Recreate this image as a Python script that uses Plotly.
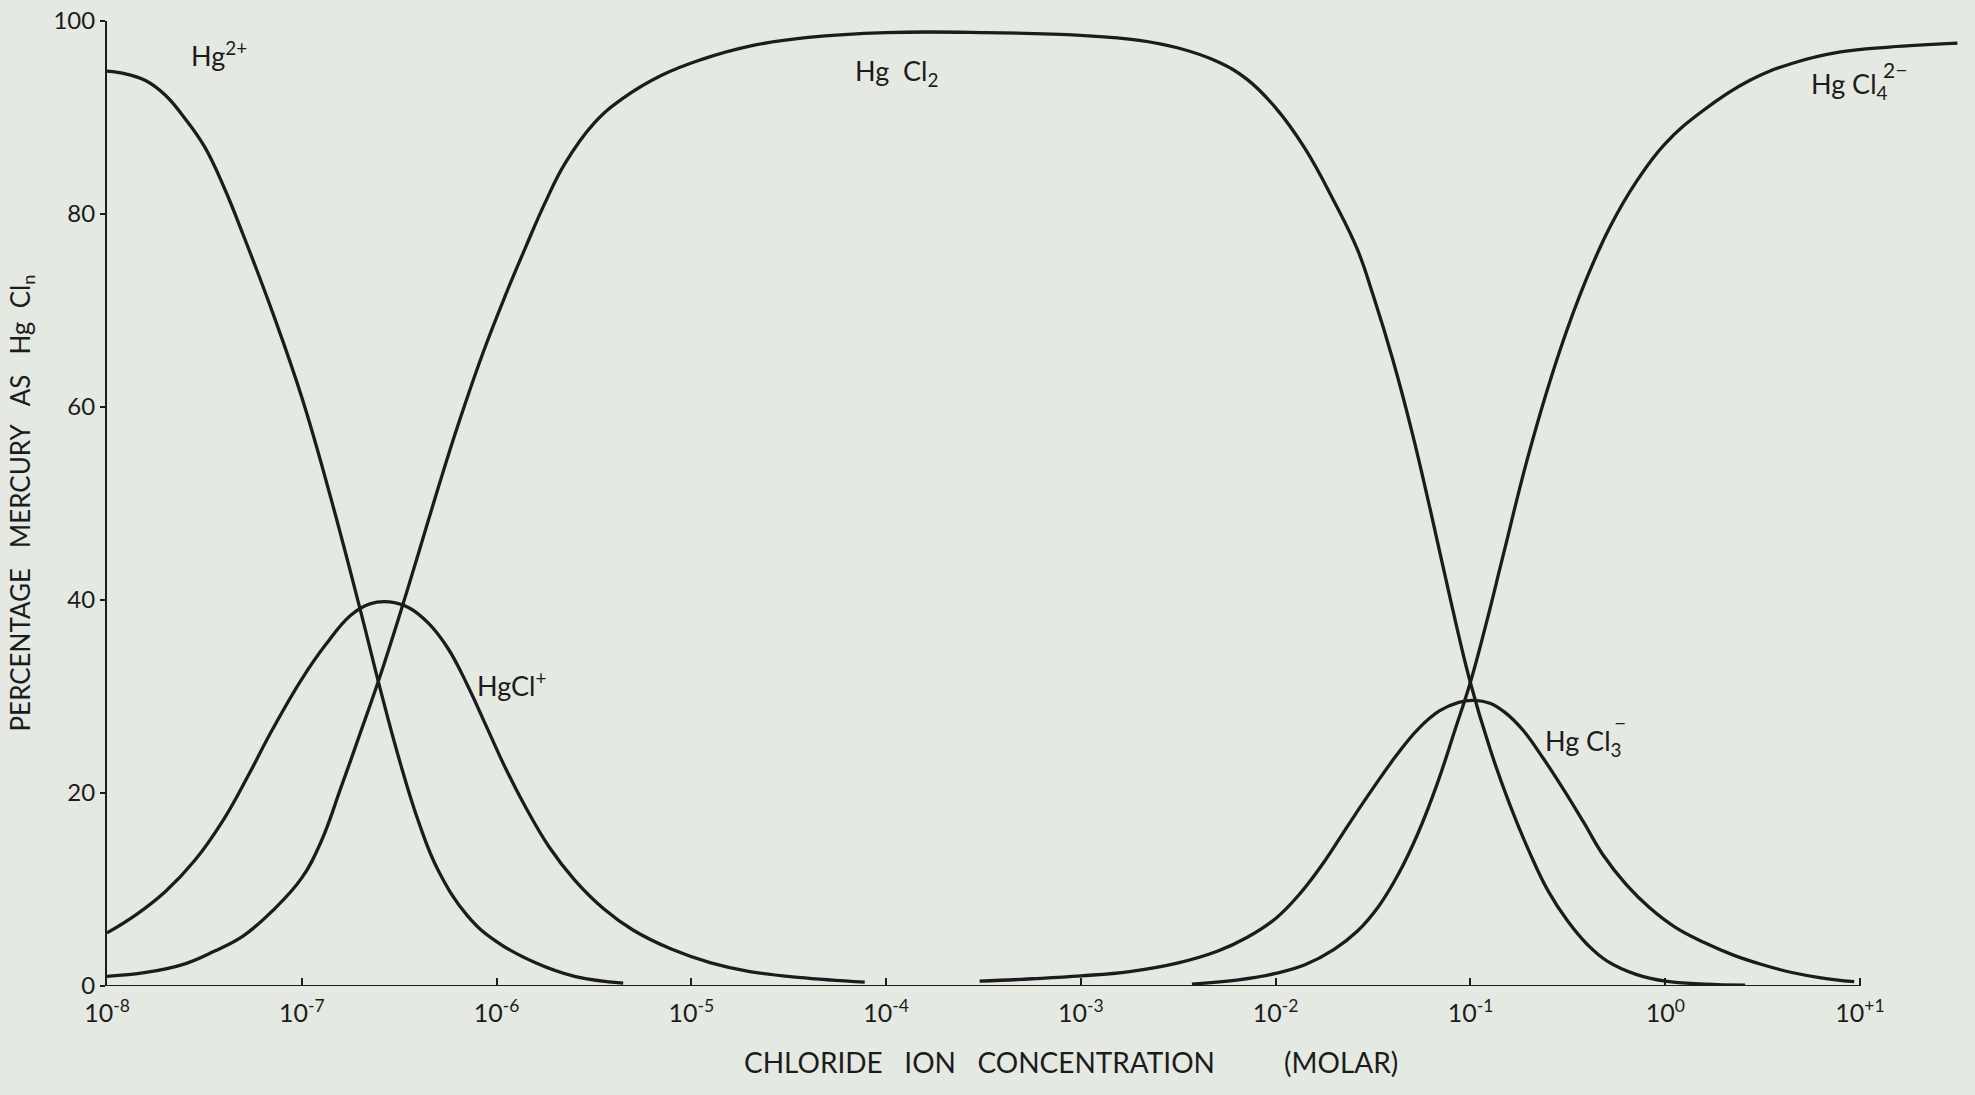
import plotly.graph_objects as go

# ---- data (x = log10 of chloride ion concentration, molar; y = % of mercury) ----
hg2_logcl = [-8.0, -7.9, -7.8, -7.7, -7.6, -7.5, -7.4, -7.3, -7.15, -7.0, -6.85, -6.7, -6.6,
             -6.5, -6.4, -6.3, -6.15, -6.0, -5.8, -5.6, -5.35]
hg2_pct = [94.8, 94.5, 93.8, 92.3, 89.9, 87.0, 82.8, 77.8, 69.8, 61.0, 50.5, 39.0, 31.0,
           23.5, 17.0, 12.0, 7.3, 4.6, 2.4, 1.0, 0.3]

hgcl_logcl = [-8.0, -7.85, -7.7, -7.55, -7.4, -7.27, -7.15, -7.0, -6.88, -6.75, -6.65, -6.55,
              -6.45, -6.35, -6.25, -6.15, -6.05, -5.95, -5.85, -5.73, -5.6, -5.45, -5.3,
              -5.1, -4.9, -4.7, -4.45, -4.11]
hgcl_pct = [5.5, 7.4, 9.8, 13.0, 17.3, 22.0, 26.6, 31.8, 35.3, 38.4, 39.6, 39.8,
            39.2, 37.6, 35.0, 31.2, 26.8, 22.4, 18.5, 14.4, 11.0, 8.0, 5.8,
            3.8, 2.4, 1.5, 0.9, 0.4]

hgcl2_logcl = [-8.0, -7.8, -7.6, -7.45, -7.3, -7.15, -7.0, -6.9, -6.8, -6.7, -6.6, -6.5,
               -6.4, -6.3, -6.2, -6.07, -5.95, -5.85, -5.75, -5.65, -5.5, -5.35, -5.15,
               -4.95, -4.7, -4.4, -4.0, -3.5, -3.0, -2.7, -2.5, -2.3, -2.15, -2.0, -1.85,
               -1.7, -1.58, -1.5, -1.4, -1.3, -1.2, -1.1, -1.0, -0.9, -0.8, -0.7, -0.6,
               -0.5, -0.4, -0.3, -0.15, 0.0, 0.2, 0.41]
hgcl2_pct = [1.0, 1.4, 2.3, 3.6, 5.2, 7.8, 11.2, 15.0, 20.5, 26.2, 32.0, 38.3,
             44.9, 51.6, 58.0, 65.6, 71.8, 76.6, 81.2, 85.2, 89.4, 92.0, 94.4,
             96.0, 97.4, 98.3, 98.8, 98.8, 98.5, 98.0, 97.2, 95.8, 94.0, 91.0, 86.8,
             81.3, 76.3, 71.6, 65.0, 57.4, 48.8, 39.8, 31.4, 24.6, 18.9, 14.0, 9.8,
             6.7, 4.3, 2.6, 1.2, 0.5, 0.2, 0.1]

hgcl3_logcl = [-3.52, -3.25, -3.0, -2.75, -2.5, -2.3, -2.15, -2.0, -1.87, -1.75, -1.63, -1.5,
               -1.38, -1.27, -1.16, -1.06, -0.98, -0.9, -0.82, -0.73, -0.63, -0.52, -0.42,
               -0.32, -0.2, -0.08, 0.05, 0.2, 0.35, 0.5, 0.65, 0.8, 0.97]
hgcl3_pct = [0.5, 0.75, 1.05, 1.5, 2.4, 3.6, 5.0, 7.0, 9.7, 12.9, 16.6, 20.5,
             23.9, 26.6, 28.5, 29.4, 29.6, 29.3, 28.3, 26.5, 23.7, 20.3, 17.0,
             13.6, 10.5, 8.1, 6.1, 4.5, 3.2, 2.2, 1.4, 0.85, 0.45]

hgcl4_logcl = [-2.43, -2.2, -2.0, -1.85, -1.7, -1.58, -1.47, -1.37, -1.27, -1.17, -1.08, -1.0,
               -0.92, -0.83, -0.7, -0.54, -0.4, -0.28, -0.15, 0.0, 0.2, 0.43, 0.65, 0.9,
               1.15, 1.5]
hgcl4_pct = [0.2, 0.6, 1.3, 2.2, 3.8, 5.7, 8.3, 11.6, 15.8, 21.0, 26.5, 31.5,
             37.5, 44.8, 55.2, 65.9, 73.5, 78.8, 83.3, 87.3, 90.8, 93.8, 95.6, 96.8,
             97.3, 97.7]

x_tick_exponents = [-8, -7, -6, -5, -4, -3, -2, -1, 0, 1]
x_tick_labels = ["10<sup>-8</sup>", "10<sup>-7</sup>", "10<sup>-6</sup>", "10<sup>-5</sup>",
                 "10<sup>-4</sup>", "10<sup>-3</sup>", "10<sup>-2</sup>", "10<sup>-1</sup>",
                 "10<sup>0</sup>", "10<sup>+1</sup>"]
y_ticks = [0, 20, 40, 60, 80, 100]

# ---- styling ----
INK = "#1c1c1c"
PAPER = "#e4e9e2"
FONT = "Lato, DejaVu Sans, sans-serif"
NB = "\u00a0"

fig = go.Figure()
series = [
    ("Hg2+", hg2_logcl, hg2_pct),
    ("HgCl+", hgcl_logcl, hgcl_pct),
    ("HgCl2", hgcl2_logcl, hgcl2_pct),
    ("HgCl3-", hgcl3_logcl, hgcl3_pct),
    ("HgCl4 2-", hgcl4_logcl, hgcl4_pct),
]
for name, xs, ys in series:
    fig.add_trace(go.Scatter(
        x=[10 ** v for v in xs], y=ys, mode="lines", name=name,
        line=dict(color=INK, width=3.3, shape="spline", smoothing=1.2),
        showlegend=False, hoverinfo="skip",
    ))

# x axis line only from 10^-8 to 10^+1 (curves continue beyond it)
fig.add_shape(type="line", xref="x", yref="y",
              x0=10 ** x_tick_exponents[0], x1=10 ** x_tick_exponents[-1], y0=0, y1=0,
              line=dict(color=INK, width=2))

label_font = dict(family=FONT, size=27, color=INK)
# species labels (annotation x on a log axis is given as log10)
species_labels = [
    ("Hg<sup>2+</sup>", -7.58, 96.6),
    (f"Hg{NB}{NB}Cl<sub>2</sub>", -4.17, 94.7),
    ("HgCl<sup>+</sup>", -6.11, 31.3),
    ("Hg Cl<sub>3</sub>", -0.63, 25.2),
    ("Hg Cl<sub>4</sub>", 0.74, 93.3),
]
for text, lx, ly in species_labels:
    fig.add_annotation(x=lx, y=ly, xref="x", yref="y", text=text, showarrow=False,
                       xanchor="left", yanchor="middle", font=label_font)
# stacked charges above the subscripts
fig.add_annotation(x=-0.23, y=27.3, xref="x", yref="y", text="\u2212", showarrow=False,
                   xanchor="center", yanchor="middle", font=dict(family=FONT, size=21, color=INK))
fig.add_annotation(x=1.18, y=95.0, xref="x", yref="y", text="2\u2212", showarrow=False,
                   xanchor="center", yanchor="middle", font=dict(family=FONT, size=21, color=INK))

# axis titles
fig.add_annotation(
    text=f"CHLORIDE{NB*3}ION{NB*3}CONCENTRATION", x=-3.52, y=0, xref="x", yref="paper",
    yshift=-76, showarrow=False, xanchor="center", yanchor="middle",
    font=dict(family=FONT, size=28, color=INK))
fig.add_annotation(
    text="(MOLAR)", x=-1.665, y=0, xref="x", yref="paper",
    yshift=-76, showarrow=False, xanchor="center", yanchor="middle",
    font=dict(family=FONT, size=28, color=INK))
fig.add_annotation(
    text=f"PERCENTAGE{NB*3}MERCURY{NB*3}AS{NB*3}Hg{NB*2}Cl<sub>n</sub>",
    x=0, y=0.5, xref="paper", yref="paper", xshift=-86, textangle=-90,
    showarrow=False, xanchor="center", yanchor="middle",
    font=dict(family=FONT, size=26, color=INK))

fig.update_layout(
    width=1975, height=1095,
    margin=dict(l=107, r=2, t=21, b=109),
    paper_bgcolor=PAPER, plot_bgcolor=PAPER,
    showlegend=False,
    font=dict(family=FONT, color=INK),
)
fig.update_xaxes(
    type="log", range=[-8, 1.58],
    tickvals=[10 ** e for e in x_tick_exponents], ticktext=x_tick_labels,
    ticks="inside", ticklen=8, tickwidth=1.5, tickcolor=INK,
    showline=False, showgrid=False, zeroline=False,
    ticklabelstandoff=10,
    tickfont=dict(family=FONT, size=25, color=INK),
)
fig.update_yaxes(
    range=[0, 100], tickvals=y_ticks,
    ticks="outside", ticklen=5, tickwidth=1.5, tickcolor=INK,
    showline=True, linecolor=INK, linewidth=2,
    showgrid=False, zeroline=False,
    tickfont=dict(family=FONT, size=24, color=INK),
)

fig.write_html(
    "out.html",
    config={"displayModeBar": False},
    post_script=f"document.body.style.margin='0';document.body.style.background='{PAPER}';",
)
